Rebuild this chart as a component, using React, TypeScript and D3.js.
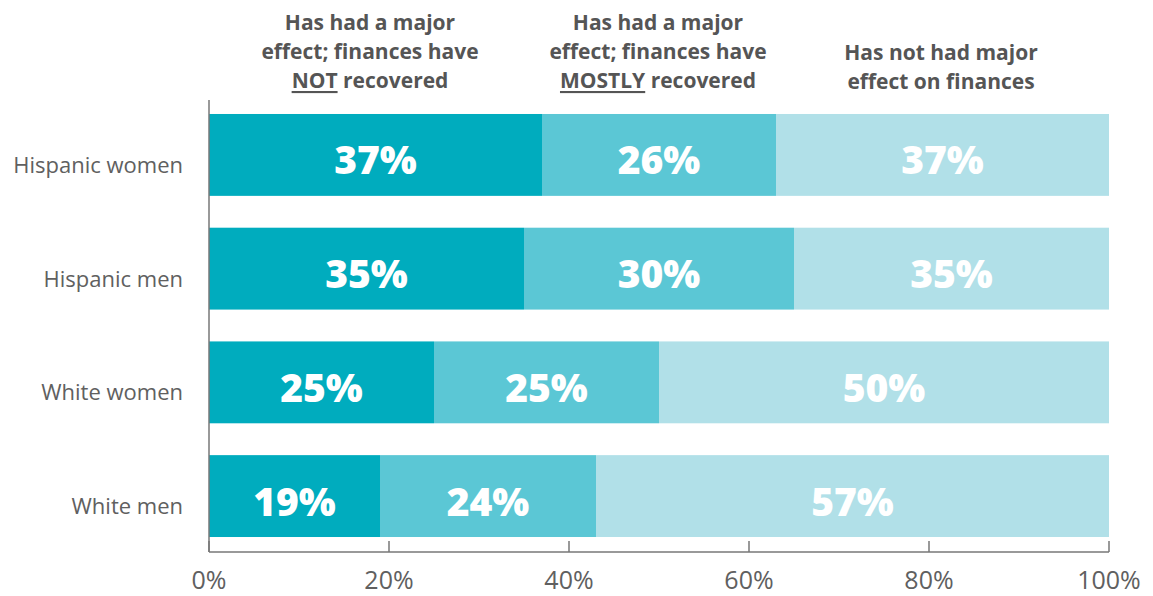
import React from "react";
import * as d3 from "d3";

const categories = ["Hispanic women", "Hispanic men", "White women", "White men"];
const notRecovered = [37, 35, 25, 19];
const mostlyRecovered = [26, 30, 25, 24];
const noMajorEffect = [37, 35, 50, 57];
const seriesKeys = ["notRecovered", "mostlyRecovered", "noMajorEffect"];
const seriesColors = ["#00acbe", "#5bc7d5", "#b1e0e8"];
const tickValues = [0, 20, 40, 60, 80, 100];

const W = 1153;
const H = 596;
const X0 = 209;
const X1 = 1109;
const AXIS_Y = 552;

export default function App() {
  const x = d3.scaleLinear().domain([0, 100]).range([X0, X1]);
  const y = d3
    .scaleBand<string>()
    .domain(categories)
    .range([100, 551])
    .paddingInner(0.28)
    .paddingOuter(0.123);

  const rows = categories.map((c, i) => ({
    cat: c,
    notRecovered: notRecovered[i],
    mostlyRecovered: mostlyRecovered[i],
    noMajorEffect: noMajorEffect[i],
  }));
  const stack = d3.stack<any>().keys(seriesKeys)(rows);

  const gray = "#606060";
  const headFont = "'Open Sans', 'Liberation Sans', sans-serif";

  const headers = [
    { cx: 370, lines: [["Has had a major"], ["effect; finances have"], ["NOT", " recovered"]], top: 22 },
    { cx: 658, lines: [["Has had a major"], ["effect; finances have"], ["MOSTLY", " recovered"]], top: 22 },
    { cx: 941, lines: [["Has not had major"], ["effect on finances"]], top: 52 },
  ];

  return (
    <svg width={W} height={H} style={{ position: "absolute", left: 0, top: 0 }}>
      <rect width={W} height={H} fill="#fff" />
      {headers.map((h, hi) =>
        h.lines.map((parts, li) => (
          <text
            key={`h${hi}-${li}`}
            x={h.cx}
            y={h.top + li * 29}
            textAnchor="middle"
            dominantBaseline="central"
            fontFamily={headFont}
            fontWeight={700}
            fontSize={21}
            fill="#555"
          >
            {parts.length === 2 ? (
              <>
                <tspan textDecoration="underline">{parts[0]}</tspan>
                <tspan>{parts[1]}</tspan>
              </>
            ) : (
              parts[0]
            )}
          </text>
        ))
      )}
      {stack.map((s, si) =>
        s.map((d, i) => (
          <rect
            key={`r${si}-${i}`}
            x={x(d[0])}
            y={y(categories[i])}
            width={x(d[1]) - x(d[0])}
            height={y.bandwidth()}
            fill={seriesColors[si]}
          />
        ))
      )}
      {stack.map((s, si) =>
        s.map((d, i) => (
          <text
            key={`t${si}-${i}`}
            x={(x(d[0]) + x(d[1])) / 2}
            y={(y(categories[i]) as number) + y.bandwidth() / 2 + 4}
            textAnchor="middle"
            dominantBaseline="central"
            fontFamily="'Open Sans', sans-serif"
            fontWeight={800}
            fontSize={39}
            fill="#fff"
          >
            {`${d[1] - d[0]}%`}
          </text>
        ))
      )}
      {categories.map((c) => (
        <text
          key={c}
          x={183}
          y={(y(c) as number) + y.bandwidth() / 2 + 9}
          textAnchor="end"
          dominantBaseline="central"
          fontFamily="'Open Sans', sans-serif"
          fontSize={22}
          fill={gray}
        >
          {c}
        </text>
      ))}
      <line x1={X0} x2={X0} y1={100} y2={AXIS_Y} stroke="#777" strokeWidth={1.5} />
      <line x1={X0} x2={X1} y1={AXIS_Y} y2={AXIS_Y} stroke="#777" strokeWidth={1.5} />
      {tickValues.map((t) => (
        <g key={t}>
          <line x1={x(t)} x2={x(t)} y1={541} y2={AXIS_Y} stroke="#777" strokeWidth={1.5} />
          <text
            x={x(t)}
            y={579}
            textAnchor="middle"
            dominantBaseline="central"
            fontFamily="'Open Sans', sans-serif"
            fontSize={25}
            fill={gray}
          >
            {`${t}%`}
          </text>
        </g>
      ))}
    </svg>
  );
}
